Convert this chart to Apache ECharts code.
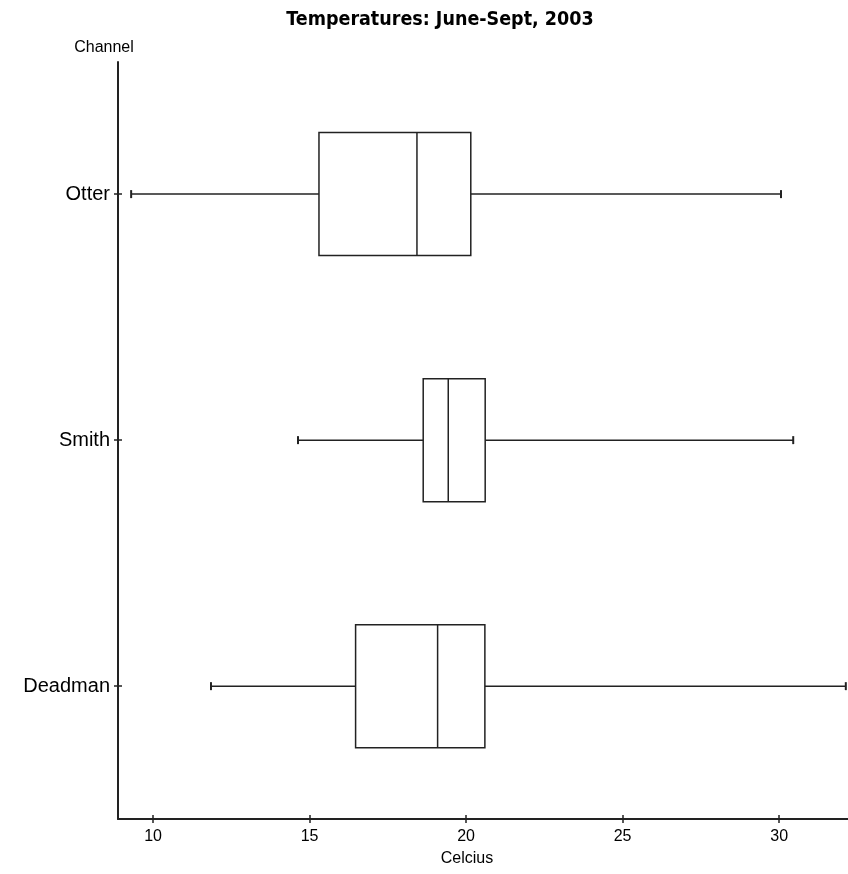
<!DOCTYPE html>
<html>
<head>
<meta charset="utf-8">
<script src="https://cdn.jsdelivr.net/npm/echarts@6/dist/echarts.min.js"></script>
<style>
  html, body { margin: 0; padding: 0; background: #fff; }
  #chart { width: 848px; height: 874px; }
</style>
</head>
<body>
<div id="chart"></div>
<script>
const categories = ['Otter', 'Smith', 'Deadman'];
const lowWhisker = [9.30, 14.63, 11.85];
const q1 = [15.30, 18.63, 16.47];
const median = [18.43, 19.43, 19.09];
const q3 = [20.15, 20.61, 20.60];
const highWhisker = [30.06, 30.45, 32.13];
const xTicks = [10, 15, 20, 25, 30];

const ink = '#222';
const labelFont = 'Arial, "Liberation Sans", sans-serif';

const chart = echarts.init(document.getElementById('chart'));

function renderBox(params, api) {
  const y = api.value(0);
  const lo = api.coord([api.value(1), y]);
  const b1 = api.coord([api.value(2), y]);
  const md = api.coord([api.value(3), y]);
  const b3 = api.coord([api.value(4), y]);
  const hi = api.coord([api.value(5), y]);
  const half = api.size([0, 0.5])[1] / 2;
  const cap = 4;
  const line = (x1, y1, x2, y2, w) => ({
    type: 'line',
    shape: { x1, y1, x2, y2 },
    style: { stroke: ink, lineWidth: w || 1.5 }
  });
  return {
    type: 'group',
    children: [
      line(lo[0], lo[1], b1[0], b1[1]),
      line(b3[0], b3[1], hi[0], hi[1]),
      line(lo[0], lo[1] - cap, lo[0], lo[1] + cap, 2),
      line(hi[0], hi[1] - cap, hi[0], hi[1] + cap, 2),
      {
        type: 'rect',
        shape: { x: b1[0], y: b1[1] - half, width: b3[0] - b1[0], height: half * 2 },
        style: { stroke: ink, lineWidth: 1.5, fill: '#fff' }
      },
      line(md[0], md[1] - half, md[0], md[1] + half)
    ]
  };
}

const xBase = {
  type: 'value',
  min: 8.88,
  max: 32.2,
  position: 'bottom',
  splitLine: { show: false },
  axisLine: { onZero: false }
};
const yBase = {
  type: 'value',
  inverse: true,
  min: -0.537,
  max: 2.54,
  position: 'left',
  splitLine: { show: false },
  axisLine: { onZero: false }
};

const options = {
  animation: false,
  title: {
    text: 'Temperatures: June-Sept, 2003',
    left: 435,
    textAlign: 'center',
    top: 5,
    textStyle: {
      fontFamily: '"Liberation Sans Narrow", "DejaVu Sans Condensed", Arial, sans-serif',
      fontWeight: 'bold',
      fontSize: 19.5,
      color: '#000'
    }
  },
  grid: { left: 118, right: 0, top: 62, bottom: 55, containLabel: false },
  xAxis: [
    Object.assign({}, xBase, {
      name: 'Celcius',
      nameLocation: 'middle',
      nameGap: 32,
      nameTextStyle: { fontFamily: labelFont, fontSize: 16, color: '#000', padding: [0, 32, 0, 0] },
      axisLine: { onZero: false, lineStyle: { color: ink, width: 2 } },
      axisTick: { length: 4, lineStyle: { color: ink, width: 1.5 }, customValues: xTicks },
      axisLabel: { customValues: xTicks, margin: 10, fontFamily: labelFont, fontSize: 16, color: '#000' }
    }),
    Object.assign({}, xBase, {
      axisLine: { show: false, onZero: false },
      axisTick: { inside: true, length: 4, lineStyle: { color: ink, width: 1.5 }, customValues: xTicks },
      axisLabel: { show: false }
    })
  ],
  yAxis: [
    Object.assign({}, yBase, {
      name: 'Channel',
      nameLocation: 'start',
      nameGap: 6,
      nameTextStyle: { fontFamily: labelFont, fontSize: 16, color: '#000', padding: [0, 28, 0, 0] },
      axisLine: { onZero: false, lineStyle: { color: ink, width: 2 } },
      axisTick: { length: 4, lineStyle: { color: ink, width: 1.5 }, customValues: [0, 1, 2] },
      axisLabel: {
        customValues: [0, 1, 2],
        margin: 8,
        fontFamily: labelFont,
        fontSize: 20,
        letterSpacing: 1,
        color: '#000',
        formatter: v => categories[v]
      }
    }),
    Object.assign({}, yBase, {
      axisLine: { show: false, onZero: false },
      axisTick: { inside: true, length: 4, lineStyle: { color: ink, width: 1.5 }, customValues: [0, 1, 2] },
      axisLabel: { show: false }
    })
  ],
  series: [{
    type: 'custom',
    name: 'Temperature',
    xAxisIndex: 0,
    yAxisIndex: 0,
    clip: false,
    renderItem: renderBox,
    encode: { x: [1, 2, 3, 4, 5], y: 0 },
    data: categories.map((c, i) => [i, lowWhisker[i], q1[i], median[i], q3[i], highWhisker[i]])
  }]
};

chart.setOption(options);
</script>
</body>
</html>
